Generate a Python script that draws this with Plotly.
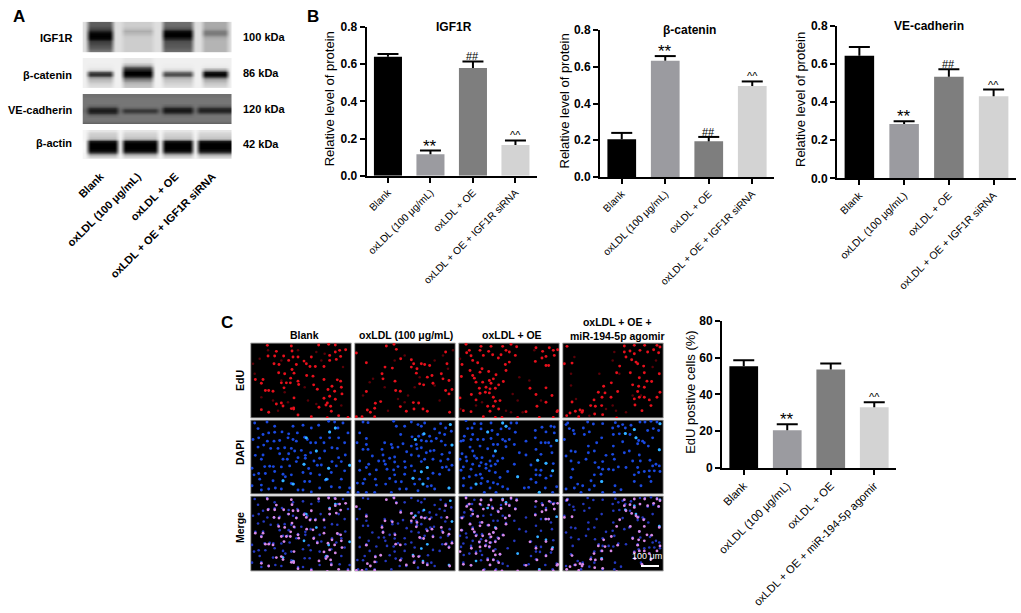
import numpy as np
import plotly.graph_objects as go

W, H = 1021, 613
FONT = "Liberation Sans"

# bar charts
groups_protein = ["Blank", "oxLDL (100 μg/mL)", "oxLDL + OE", "oxLDL + OE + IGF1R siRNA"]
groups_edu = ["Blank", "oxLDL (100 μg/mL)", "oxLDL + OE", "oxLDL + OE + miR-194-5p agomir"]
igf1r_vals = [0.64, 0.115, 0.58, 0.165]
igf1r_errs = [0.015, 0.02, 0.035, 0.025]
catenin_vals = [0.205, 0.633, 0.194, 0.495]
catenin_errs = [0.035, 0.025, 0.024, 0.025]
cadherin_vals = [0.643, 0.285, 0.533, 0.43]
cadherin_errs = [0.045, 0.014, 0.039, 0.035]
edu_vals = [55.3, 20.5, 53.5, 33.0]
edu_errs = [3.2, 3.2, 3.2, 2.7]
marks_protein = ["", "**", "##", "^^"]
marks_edu = ["", "**", "", "^^"]
bar_colors = ["#000000", "#9b9ba0", "#7e7e7e", "#d3d3d3"]

# western blots: gray level down each lane, first list is the gap between lanes
lanes_narrow = [0, 1, 1, 1, 1, 1, 0, 0, 2, 2, 2, 2, 2, 2, 0, 0, 3, 3, 3, 3, 3, 3, 0, 0, 4, 4, 4, 4, 4, 0]
lanes_wide = [0, 1, 1, 1, 1, 1, 1, 0, 2, 2, 2, 2, 2, 2, 2, 0, 3, 3, 3, 3, 3, 3, 0, 4, 4, 4, 4, 4, 4, 4]
blot_igf1r = [
    [222, 222, 222, 222, 222, 222, 222, 222, 222, 222, 222, 222],
    [95, 90, 75, 40, 5, 0, 5, 55, 70, 85, 100, 120],
    [205, 205, 195, 172, 185, 200, 205, 205, 205, 205, 205, 205],
    [110, 105, 90, 20, 0, 0, 30, 75, 85, 90, 100, 110],
    [170, 170, 165, 130, 120, 150, 175, 180, 180, 180, 180, 180],
]
blot_catenin = [
    [240, 240, 240, 240, 240, 240, 240, 240, 240, 240, 240, 240],
    [240, 240, 238, 235, 225, 90, 40, 140, 185, 200, 215, 225],
    [230, 225, 190, 100, 40, 0, 0, 60, 130, 170, 190, 200],
    [240, 240, 238, 235, 220, 120, 70, 160, 195, 205, 215, 225],
    [240, 240, 238, 230, 170, 30, 0, 80, 170, 190, 205, 220],
]
blot_cadherin = [
    [112, 118, 118, 118, 118, 112, 105, 112, 118, 118, 118, 100],
    [112, 118, 118, 118, 105, 50, 25, 50, 105, 118, 118, 100],
    [112, 118, 118, 118, 118, 95, 50, 85, 118, 118, 118, 100],
    [112, 118, 118, 118, 100, 40, 20, 60, 110, 118, 118, 100],
    [112, 118, 118, 118, 105, 50, 30, 75, 118, 118, 118, 100],
]
blot_actin = [
    [245, 245, 245, 245, 248, 250, 250, 250, 248, 245, 245, 245],
    [228, 208, 202, 190, 30, 0, 0, 0, 10, 90, 190, 228],
    [228, 212, 205, 190, 30, 0, 0, 0, 10, 100, 195, 228],
    [228, 212, 205, 195, 30, 0, 0, 0, 10, 100, 195, 228],
    [228, 212, 205, 195, 30, 0, 0, 0, 15, 100, 195, 228],
]
blot_names = ["IGF1R", "β-catenin", "VE-cadherin", "β-actin"]
blot_sizes = ["100 kDa", "86 kDa", "120 kDa", "42 kDa"]

# EdU spots (image pixels x3)
edu_1 = [(58,15),(130,17),(85,33),(242,12),(262,14),(212,14),(275,30),(262,35),(245,45),(60,47),(80,47),(107,47),(132,32),(135,50),(122,60),(150,50),(190,50),(168,62),(175,70),(145,72),(78,70),(93,72),(186,78),(202,78),(228,78),(245,60),(265,57),(278,48),(293,28),(132,87),(110,100),(92,97),(138,98),(176,105),(195,107),(45,117),(40,128),(22,117),(128,113),(100,127),(115,127),(127,127),(150,122),(152,132),(108,142),(62,150),(75,152),(52,150),(197,133),(228,117),(268,118),(278,122),(252,137),(208,146),(240,147),(260,152),(280,140),(282,160),(245,167),(228,173),(262,176),(238,187),(234,193),(100,187),(105,196),(85,190),(138,172),(130,204),(137,202),(137,205),(213,200),(248,197),(250,212),(62,215),(40,207),(150,223),(190,228),(238,231),(300,230),(272,225)]
edu_1_dim = [(15,70),(35,55),(60,30),(100,60),(150,30),(205,35),(285,80),(20,100),(170,140),(110,155),(40,170),(75,180),(120,185),(180,180),(205,190),(280,195),(220,60),(90,210),(100,120),(230,40)]
edu_2 = [(415,17),(438,12),(445,27),(325,38),(355,67),(411,80),(433,83),(402,100),(405,115),(441,122),(458,55),(490,58),(497,70),(507,85),(505,98),(490,80),(520,70),(530,72),(545,75),(538,110),(552,105),(580,100),(597,70),(593,35),(603,120),(555,128),(527,133),(515,130),(585,115),(443,150),(457,152),(355,153),(612,147),(593,150),(603,160),(398,183),(382,188),(380,203),(496,186),(512,187),(457,198),(498,205),(525,205),(538,212),(358,208),(367,215),(380,228),(475,212),(342,228),(325,228),(605,215)]
edu_2_dim = [(365,125),(375,115),(345,165),(470,45),(440,60),(560,60),(600,85),(585,45),(615,30),(410,140),(500,140),(480,165),(450,175),(575,180),(420,210),(470,185),(560,135),(515,110)]
edu_3 = [(30,12),(75,18),(105,18),(140,18),(165,12),(182,19),(240,22),(72,30),(98,33),(40,30),(32,37),(45,46),(82,45),(110,43),(135,43),(150,30),(160,35),(178,45),(127,53),(50,60),(65,67),(18,72),(78,85),(72,95),(42,90),(148,72),(150,90),(160,65),(98,93),(16,108),(50,105),(55,113),(120,103),(112,115),(100,120),(80,125),(60,125),(142,123),(128,133),(105,128),(90,140),(70,143),(102,145),(118,143),(88,155),(100,157),(72,158),(46,162),(60,178),(12,172),(112,170),(118,182),(132,180),(95,197),(112,197),(128,205),(102,212),(45,213),(22,210),(82,228),(118,230),(138,230),(185,230),(210,213),(222,143),(240,162),(270,142),(288,165),(243,197),(270,185),(305,210),(303,213),(292,230),(250,230),(260,33),(280,22),(292,30),(305,28),(295,45),(258,53),(270,48),(238,63),(270,75),(278,75)]
edu_3_dim = [(185,180),(150,210),(165,215),(200,215),(190,110),(220,120),(60,195),(78,185),(255,180),(170,160),(235,30),(12,55),(13,205)]
edu_4 = [(505,17),(535,15),(566,15),(603,15),(612,20),(593,28),(552,30),(575,35),(608,37),(505,35),(522,32),(535,40),(510,50),(527,58),(540,65),(545,70),(563,77),(523,97),(482,97),(491,77),(550,112),(565,97),(610,100),(573,122),(587,123),(466,127),(443,137),(530,133),(548,137),(565,140),(545,153),(427,155),(447,157),(465,170),(485,153),(438,170),(414,178),(535,175),(550,170),(565,170),(580,178),(612,155),(603,170),(585,195),(537,193),(418,197),(404,195),(437,195),(558,210),(380,210),(372,208),(378,215),(358,212),(348,184),(342,217),(332,225),(368,228),(416,220),(440,222),(482,232),(325,70),(348,68),(333,18)]
edu_4_dim = [(355,50),(345,100),(345,135),(360,175),(475,35),(470,60),(430,100),(490,100),(600,60),(590,80),(530,165),(470,195),(450,205),(480,210),(510,215),(400,225),(555,165)]

# DAPI nuclei, same crops
dapi_1 = [(20,15),(57,12),(165,22),(242,10),(260,12),(285,15),(270,30),(262,30),(245,42),(300,45),(30,32),(45,50),(62,45),(80,43),(102,42),(122,48),(148,45),(190,30),(212,22),(80,25),(135,25),(15,65),(32,60),(58,70),(78,70),(95,68),(120,60),(135,65),(145,70),(170,58),(178,65),(188,75),(203,75),(218,60),(228,75),(245,60),(272,60),(290,75),(30,88),(47,82),(68,92),(90,92),(110,90),(130,92),(160,98),(188,105),(205,100),(230,100),(252,90),(268,92),(22,113),(45,112),(40,125),(95,108),(122,108),(140,100),(172,113),(172,122),(150,120),(105,125),(118,125),(198,130),(215,122),(252,132),(272,120),(280,132),(292,112),(50,147),(65,146),(76,147),(100,148),(125,145),(145,132),(168,140),(182,153),(208,143),(242,152),(220,142),(265,145),(305,143),(12,152),(32,168),(18,172),(52,168),(80,162),(105,170),(130,172),(165,165),(188,168),(215,172),(238,185),(250,165),(290,160),(35,185),(75,190),(105,190),(112,178),(130,198),(137,200),(170,192),(185,192),(232,188),(280,185),(40,203),(82,212),(62,215),(100,215),(150,218),(165,218),(190,224),(215,212),(250,208),(275,210),(305,212),(300,225),(40,218),(12,205)]
dapi_1_bright = [(245,42),(175,60),(205,100),(168,140),(242,152),(235,185),(135,200),(105,190),(305,143),(262,30)]
dapi_2 = [(345,12),(360,14),(437,10),(490,12),(510,20),(530,15),(578,17),(607,20),(445,25),(470,25),(520,25),(560,33),(593,30),(610,40),(458,50),(492,57),(525,50),(512,55),(528,48),(545,55),(575,45),(590,50),(335,45),(355,62),(327,75),(355,80),(410,75),(430,80),(502,65),(520,68),(535,70),(550,70),(565,62),(580,70),(612,82),(592,82),(345,95),(360,95),(402,95),(433,90),(450,88),(465,78),(490,85),(505,80),(507,93),(520,90),(547,100),(582,110),(558,98),(605,105),(373,115),(335,130),(405,112),(425,122),(440,118),(476,102),(490,112),(512,115),(535,105),(555,125),(408,130),(392,130),(362,140),(440,133),(470,132),(520,132),(530,125),(578,130),(600,125),(355,150),(335,158),(412,140),(437,157),(450,147),(472,150),(490,145),(538,150),(595,148),(603,157),(612,143),(520,163),(555,167),(583,150),(365,170),(385,157),(417,155),(425,183),(440,172),(470,170),(500,160),(495,182),(515,185),(540,183),(575,170),(350,185),(382,185),(328,197),(345,198),(413,200),(385,203),(443,193),(460,193),(500,200),(525,200),(538,207),(550,205),(603,212),(330,225),(355,225),(380,225),(430,225),(455,215),(475,215),(510,220),(560,215)]
dapi_2_bright = [(607,20),(502,65),(520,163),(538,150),(612,82),(528,48),(495,182),(525,200),(603,212)]
dapi_3 = [(30,8),(55,17),(75,17),(105,15),(140,15),(165,15),(150,25),(182,15),(35,32),(48,30),(75,33),(95,42),(108,38),(135,33),(160,32),(178,43),(238,38),(258,28),(285,25),(295,27),(270,42),(295,45),(125,50),(50,50),(25,55),(15,70),(22,68),(45,65),(65,65),(82,65),(105,62),(140,65),(148,70),(160,65),(175,80),(150,87),(112,80),(125,80),(210,70),(238,60),(255,75),(268,75),(278,75),(302,68),(285,85),(42,88),(72,85),(95,93),(50,100),(18,108),(55,115),(118,100),(112,115),(140,122),(125,130),(190,105),(210,112),(240,95),(255,110),(288,105),(30,118),(12,125),(78,120),(62,122),(32,130),(75,135),(102,130),(90,140),(105,145),(118,140),(70,145),(50,140),(22,148),(245,128),(270,137),(292,138),(225,142),(240,157),(255,158),(290,160),(15,158),(45,155),(90,152),(100,160),(118,165),(132,180),(155,162),(175,140),(73,170),(60,173),(40,178),(23,182),(78,182),(95,192),(112,196),(125,200),(185,178),(240,172),(252,173),(270,182),(285,175),(225,185),(60,200),(75,198),(22,205),(45,212),(102,212),(140,208),(218,210),(205,212),(240,195),(268,212),(302,208),(290,225),(250,225),(85,225),(120,225),(155,215)]
dapi_3_bright = [(140,15),(95,42),(302,68),(118,100),(270,137),(290,160),(245,128),(250,225),(185,178),(60,200),(150,25)]
dapi_4 = [(335,15),(395,12),(412,18),(440,17),(478,14),(500,20),(525,22),(552,12),(567,12),(585,10),(603,12),(612,17),(330,20),(352,38),(382,30),(470,30),(487,25),(508,30),(535,35),(575,38),(592,32),(608,38),(340,32),(355,48),(325,65),(385,50),(400,42),(437,60),(472,50),(490,48),(508,47),(522,50),(540,60),(548,68),(560,70),(590,60),(422,75),(397,85),(500,72),(472,85),(545,78),(565,75),(577,85),(345,100),(358,102),(397,105),(415,100),(470,110),(520,100),(550,112),(610,96),(330,115),(345,130),(368,135),(390,125),(417,135),(440,132),(450,113),(475,125),(505,105),(582,128),(553,130),(530,130),(600,140),(610,145),(428,150),(440,155),(458,155),(472,157),(487,148),(510,150),(545,150),(590,145),(350,155),(548,165),(565,162),(580,160),(595,160),(612,162),(415,172),(435,170),(535,172),(580,178),(345,180),(405,190),(437,192),(535,192),(585,192),(365,200),(380,205),(415,205),(477,205),(555,205),(355,212),(330,215),(400,217),(375,225),(440,225),(495,217),(475,225)]
dapi_4_bright = [(610,96),(540,60),(508,47),(612,17),(437,192),(535,35)]

micro_titles = ["Blank", "oxLDL (100 μg/mL)", "oxLDL + OE", "oxLDL + OE +<br>miR-194-5p agomir"]
micro_rows = ["EdU", "DAPI", "Merge"]


def px(x):
    return x / W


def py(y):
    return 1 - y / H


def label(text, x, y, size=11, bold=True, color="black", xanchor="center", angle=0):
    fig.add_annotation(text=text, x=px(x), y=py(y), xref="paper", yref="paper", showarrow=False,
                       xanchor=xanchor, yanchor="middle", textangle=angle,
                       font=dict(family=FONT, size=size, color=color, weight=700 if bold else 400))


def xs(points):
    return [p[0] for p in points]


def ys(points):
    return [p[1] for p in points]


fig = go.Figure()
n_axis = 0


def next_axes():
    global n_axis
    n_axis += 1
    return n_axis, "x%d" % n_axis, "y%d" % n_axis


def bar_panel(cats, vals, errs, marks, left, right, top, bottom, ymax, dtick, title, ylabel, ytitle_x, tick_size):
    n, xa, ya = next_axes()
    tops = [v + e for v, e in zip(vals, errs)]
    fig.add_trace(go.Bar(x=cats, y=vals, xaxis=xa, yaxis=ya, width=0.66,
                         marker=dict(color=bar_colors, line=dict(width=0)),
                         error_y=dict(type="data", array=errs, arrayminus=[0] * 4, symmetric=False,
                                      color="black", thickness=2, width=0)))
    # upper cap only, the reference has none at the bar top
    fig.add_trace(go.Scatter(x=cats, y=tops, xaxis=xa, yaxis=ya, mode="markers",
                             marker=dict(symbol="line-ew", size=15, line=dict(color="black", width=2))))
    fig.update_layout(**{
        "xaxis%d" % n: dict(domain=[px(left), px(right)], anchor=ya, type="category", range=[-0.5, 3.5],
                            showline=True, linecolor="black", linewidth=2, ticks="outside", ticklen=5,
                            tickwidth=2, tickcolor="black", tickangle=-45, showgrid=False,
                            tickfont=dict(family=FONT, size=tick_size, color="black")),
        "yaxis%d" % n: dict(domain=[py(bottom), py(top)], anchor=xa, range=[0, ymax], dtick=dtick,
                            showline=True, linecolor="black", linewidth=2, ticks="outside", ticklen=5,
                            tickwidth=2, tickcolor="black", showgrid=False, zeroline=False,
                            tickformat=".1f" if ymax < 1 else "d",
                            tickfont=dict(family=FONT, size=12, color="black", weight=700)),
    })
    for i, m in enumerate(marks):
        if m:
            size = 17 if m == "**" else 11
            fig.add_annotation(text=m, x=cats[i], y=tops[i], xref=xa, yref=ya, showarrow=False,
                               yanchor="bottom", yshift=-7 if m == "**" else -3,
                               font=dict(family=FONT, size=size, color="black"))
    if title:
        label(title, (left + right) / 2 + (2 if ymax < 1 else 0), top, size=12)
    label(ylabel, ytitle_x, (top + bottom) / 2 - 2, size=13, bold=False, angle=-90)


def blot_panel(profiles, lane_of_col, top, bottom, show_ticks):
    n, xa, ya = next_axes()
    z = [[profiles[lane][r] for lane in lane_of_col] for r in range(len(profiles[0]))]
    fig.add_trace(go.Heatmap(z=z, xaxis=xa, yaxis=ya, zmin=0, zmax=255, zsmooth="best", showscale=False,
                             colorscale=[[0, "black"], [1, "white"]]))
    lanes = np.array(lane_of_col)
    centers = [float(np.mean(np.where(lanes == k)[0])) - 0.4 for k in range(1, 5)]
    xaxis = dict(domain=[px(82.5), px(232)], anchor=ya, range=[-0.5, 29.5], showgrid=False, zeroline=False,
                 showline=False, ticks="", showticklabels=False)
    if show_ticks:
        xaxis.update(showticklabels=True, tickmode="array", tickvals=centers, ticktext=groups_protein,
                     tickangle=-45, ticklabelstandoff=8,
                     tickfont=dict(family=FONT, size=11, color="black", weight=700))
    fig.update_layout(**{
        "xaxis%d" % n: xaxis,
        "yaxis%d" % n: dict(domain=[py(bottom), py(top)], anchor=xa, range=[11.5, -0.5], showgrid=False,
                            zeroline=False, showline=False, ticks="", showticklabels=False),
    })


def micro_panel(layers, left, right, top, bottom, xrange, yrange):
    n, xa, ya = next_axes()
    fig.add_shape(type="rect", xref="paper", yref="paper", x0=px(left), x1=px(right), y0=py(bottom), y1=py(top),
                  fillcolor="black", line=dict(color="#b4b4b4", width=1), layer="below")
    for points, color, size in layers:
        fig.add_trace(go.Scatter(x=xs(points), y=ys(points), xaxis=xa, yaxis=ya, mode="markers",
                                 marker=dict(color=color, size=size, line=dict(width=0))))
    fig.update_layout(**{
        "xaxis%d" % n: dict(domain=[px(left), px(right)], anchor=ya, range=xrange, visible=False),
        "yaxis%d" % n: dict(domain=[py(bottom), py(top)], anchor=xa, range=yrange, visible=False),
    })


# A
blot_tops = [(21.7, 52.3), (58, 88), (94, 124), (130, 159)]
blot_data = [blot_igf1r, blot_catenin, blot_cadherin, blot_actin]
blot_lanes = [lanes_narrow, lanes_narrow, lanes_wide, lanes_wide]
name_y = [38, 75, 110, 143]
size_y = [36.7, 72.7, 108.7, 144.3]
for i in range(4):
    blot_panel(blot_data[i], blot_lanes[i], blot_tops[i][0], blot_tops[i][1], i == 3)
    label(blot_names[i], 74, name_y[i], xanchor="right")
    label(blot_sizes[i], 240.5, size_y[i], xanchor="left")

# B
bar_panel(groups_protein, igf1r_vals, igf1r_errs, marks_protein, 366.7, 536.7, 27, 175.7, 0.8, 0.2,
          "IGF1R", "Relative level of protein", 329, 10.2)
bar_panel(groups_protein, catenin_vals, catenin_errs, marks_protein, 600, 774, 30, 177, 0.8, 0.2,
          "β-catenin", "Relative level of protein", 564, 10.2)
bar_panel(groups_protein, cadherin_vals, cadherin_errs, marks_protein, 837, 1016, 25.7, 178.3, 0.8, 0.2,
          "VE-cadherin", "Relative level of protein", 801, 10.5)

# C micrographs
col_edges = [(250.7, 351.3), (354.7, 455.3), (458.7, 559.3), (562.7, 663.3)]
crop_x = [[8, 310], [320, 622], [8, 310], [320, 622]]
edu_sets = [edu_1, edu_2, edu_3, edu_4]
edu_dim_sets = [edu_1_dim, edu_2_dim, edu_3_dim, edu_4_dim]
dapi_sets = [dapi_1, dapi_2, dapi_3, dapi_4]
dapi_bright_sets = [dapi_1_bright, dapi_2_bright, dapi_3_bright, dapi_4_bright]
for c in range(4):
    left, right = col_edges[c]
    micro_panel([(edu_dim_sets[c], "#5a0008", 2.5), (edu_sets[c], "#e8101c", 2.9)],
                left, right, 343, 418, crop_x[c], [232, 8])
    micro_panel([(dapi_sets[c], "#1a48e0", 2.9), (dapi_bright_sets[c], "#30b8ff", 3)],
                left, right, 420, 494, crop_x[c], [230, 6])
    micro_panel([(dapi_sets[c], "#2438c0", 2.6), (dapi_bright_sets[c], "#30b8ff", 2.6), (edu_sets[c], "#d888e8", 2.8)],
                left, right, 496, 571, crop_x[c], [230, 6])

col_centers = [304, 406, 512, 617]
for c in range(4):
    label(micro_titles[c], col_centers[c], 335 if c < 3 else 329, size=10.5)
for text, y in zip(micro_rows, [381, 453, 528]):
    label(text, 240, y, size=10.5, angle=-90)
label("100 μm", 647, 556, size=9, bold=False, color="white")
fig.add_shape(type="line", xref="paper", yref="paper", x0=px(641), x1=px(659), y0=py(566), y1=py(566),
              line=dict(color="white", width=2))

# C bars
bar_panel(groups_edu, edu_vals, edu_errs, marks_edu, 722, 896, 320.7, 468, 80, 20,
          None, "EdU postive cells (%)", 690.5, 11.2)

label("A", 19, 16, size=17)
label("B", 313, 16, size=17)
label("C", 227, 322, size=17)

fig.update_layout(width=W, height=H, margin=dict(l=0, r=0, t=0, b=0, autoexpand=False), paper_bgcolor="white",
                  plot_bgcolor="rgba(0,0,0,0)", showlegend=False, bargap=0.3,
                  font=dict(family=FONT))

fig.write_html("out.html", config={"displayModeBar": False}, post_script="document.body.style.margin='0';")
